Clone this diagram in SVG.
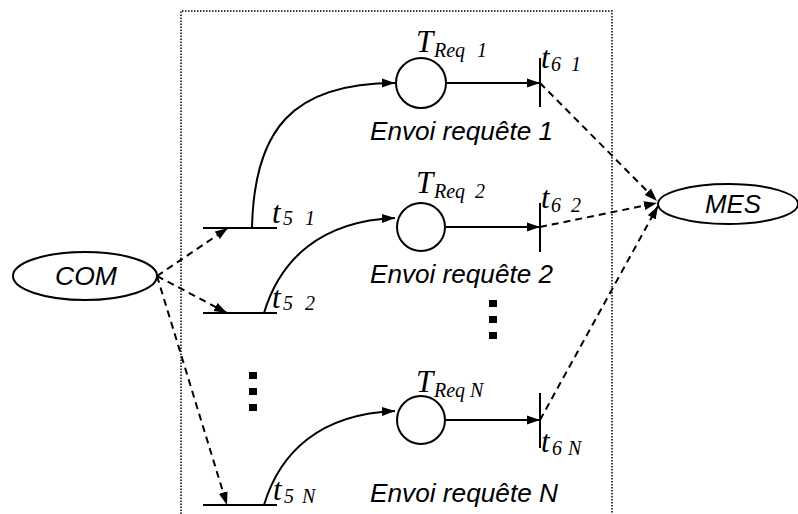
<svg xmlns="http://www.w3.org/2000/svg" width="798" height="514" viewBox="0 0 798 514">
  <style>
    .bg { fill: #ffffff; }
    .frame { fill: none; stroke: #000; stroke-width: 1.5; stroke-dasharray: 1.5 1.5; }
    .place { fill: #fff; stroke: #000; stroke-width: 2; }
    .bar { stroke: #000; stroke-width: 2; fill: none; }
    .arc { fill: none; stroke: #000; stroke-width: 2; }
    .dash { fill: none; stroke: #000; stroke-width: 2; stroke-dasharray: 7 5; }
    .sans { font-family: "Liberation Sans", Arial, sans-serif; font-style: italic; font-size: 25px; fill: #000; }
    .serif { font-family: "Liberation Serif", "Times New Roman", serif; font-style: italic; fill: #000; }
    .big { font-size: 31px; }
    .sub { font-size: 20px; }
    .dot { fill: #000; }
  </style>
  <defs>
    <marker id="arrow" markerUnits="userSpaceOnUse" markerWidth="14" markerHeight="10" refX="13" refY="5" orient="auto">
      <path d="M0,0.5 L13,5 L0,9.5 Z" fill="#000"/>
    </marker>
  </defs>

  <rect class="bg" x="0" y="0" width="798" height="514"/>

  <!-- module boundary -->
  <path class="frame" d="M181,520 L181,11 L612,11 L612,520"/>

  <!-- arcs and dashed links -->
  <g id="connectors">
    <!-- t5 -> TReq -->
    <path class="arc" d="M252,228 C254,130 292,83 395,83" marker-end="url(#arrow)"/>
    <path class="arc" d="M264,313 C280,260 320,221 395,218" marker-end="url(#arrow)"/>
    <path class="arc" d="M264,505 C280,452 320,414 395,411" marker-end="url(#arrow)"/>
    <!-- TReq -> t6 -->
    <path class="arc" d="M446,83 L540,83" marker-end="url(#arrow)"/>
    <path class="arc" d="M446,227 L540,227" marker-end="url(#arrow)"/>
    <path class="arc" d="M446,420 L540,420" marker-end="url(#arrow)"/>
    <!-- COM -> t5 -->
    <path class="dash" d="M157,276 L228,228" marker-end="url(#arrow)"/>
    <path class="dash" d="M157,276 L227,313" marker-end="url(#arrow)"/>
    <path class="dash" d="M157,276 L227,505" marker-end="url(#arrow)"/>
    <!-- t6 -> MES -->
    <path class="dash" d="M540,83 L657,201" marker-end="url(#arrow)"/>
    <path class="dash" d="M540,227 L657,203" marker-end="url(#arrow)"/>
    <path class="dash" d="M540,420 L658,206" marker-end="url(#arrow)"/>
  </g>

  <g id="COM">
    <ellipse cx="85" cy="276" rx="72" ry="24" fill="#fff" stroke="#000" stroke-width="2"/>
    <text class="sans" x="55" y="285" textLength="62" lengthAdjust="spacingAndGlyphs">COM</text>
  </g>

  <g id="MES">
    <ellipse cx="728" cy="204" rx="70" ry="20" fill="#fff" stroke="#000" stroke-width="2"/>
    <text class="sans" x="705" y="213" textLength="56" lengthAdjust="spacingAndGlyphs">MES</text>
  </g>

  <!-- branch 1 -->
  <g id="t5_1">
    <line class="bar" x1="203" y1="228" x2="277" y2="228"/>
    <text class="serif big" x="272" y="223">t</text>
    <text class="serif sub" x="283" y="225">5</text>
    <text class="serif sub" x="305" y="225">1</text>
  </g>
  <g id="TReq_1">
    <circle class="place" cx="421" cy="83" r="25"/>
    <text class="serif big" x="416" y="52">T</text>
    <text class="serif sub" x="434" y="57">Req</text>
    <text class="serif sub" x="477" y="57">1</text>
  </g>
  <g id="t6_1">
    <line class="bar" x1="540" y1="58" x2="540" y2="107"/>
    <text class="serif big" x="541" y="68">t</text>
    <text class="serif sub" x="551" y="71">6</text>
    <text class="serif sub" x="571" y="71">1</text>
  </g>
  <text class="sans" x="370" y="140" textLength="183" lengthAdjust="spacingAndGlyphs">Envoi requête 1</text>

  <!-- branch 2 -->
  <g id="t5_2">
    <line class="bar" x1="203" y1="313" x2="277" y2="313"/>
    <text class="serif big" x="272" y="308">t</text>
    <text class="serif sub" x="283" y="310">5</text>
    <text class="serif sub" x="305" y="310">2</text>
  </g>
  <g id="TReq_2">
    <circle class="place" cx="421" cy="227" r="24"/>
    <text class="serif big" x="416" y="193">T</text>
    <text class="serif sub" x="434" y="198">Req</text>
    <text class="serif sub" x="475" y="198">2</text>
  </g>
  <g id="t6_2">
    <line class="bar" x1="540" y1="203" x2="540" y2="252"/>
    <text class="serif big" x="541" y="208">t</text>
    <text class="serif sub" x="551" y="212">6</text>
    <text class="serif sub" x="571" y="212">2</text>
  </g>
  <text class="sans" x="370" y="283" textLength="183" lengthAdjust="spacingAndGlyphs">Envoi requête 2</text>

  <!-- ellipsis marks -->
  <g id="more_left">
    <rect class="dot" x="249" y="372" width="8" height="7"/>
    <rect class="dot" x="249" y="388" width="8" height="7"/>
    <rect class="dot" x="249" y="404" width="8" height="7"/>
  </g>
  <g id="more_right">
    <rect class="dot" x="489" y="300" width="8" height="7"/>
    <rect class="dot" x="489" y="316" width="8" height="7"/>
    <rect class="dot" x="489" y="332" width="8" height="7"/>
  </g>

  <!-- branch N -->
  <g id="t5_N">
    <line class="bar" x1="203" y1="505" x2="277" y2="505"/>
    <text class="serif big" x="273" y="500">t</text>
    <text class="serif sub" x="284" y="503">5</text>
    <text class="serif sub" x="302" y="503">N</text>
  </g>
  <g id="TReq_N">
    <circle class="place" cx="421" cy="420" r="24"/>
    <text class="serif big" x="416" y="392">T</text>
    <text class="serif sub" x="434" y="397">Req</text>
    <text class="serif sub" x="470" y="397">N</text>
  </g>
  <g id="t6_N">
    <line class="bar" x1="540" y1="393" x2="540" y2="448"/>
    <text class="serif big" x="541" y="452">t</text>
    <text class="serif sub" x="552" y="455">6</text>
    <text class="serif sub" x="568" y="455">N</text>
  </g>
  <text class="sans" x="370" y="502" textLength="188" lengthAdjust="spacingAndGlyphs">Envoi requête N</text>
</svg>
